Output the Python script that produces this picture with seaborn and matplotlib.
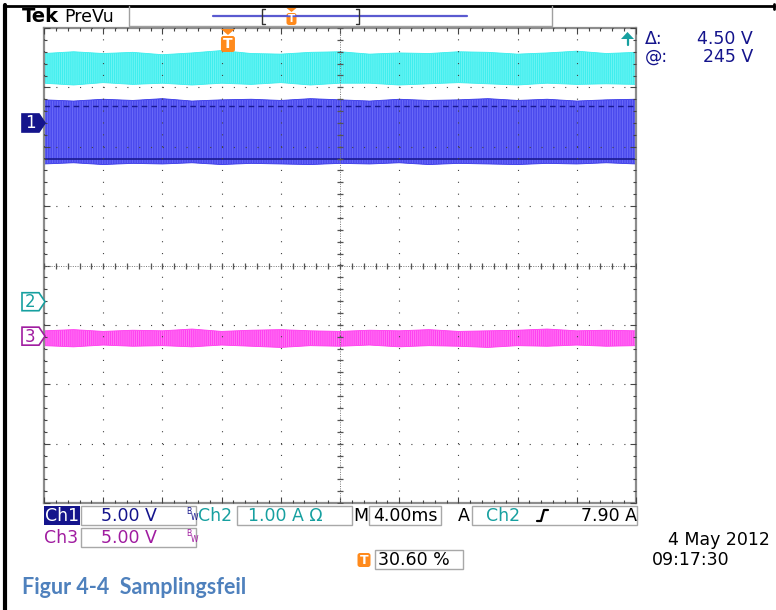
import numpy as np
import pandas as pd
import matplotlib
matplotlib.use("Agg")
import matplotlib.pyplot as plt
import matplotlib.transforms as mtransforms
from matplotlib.patches import Polygon, Rectangle, FancyBboxPatch
from matplotlib.lines import Line2D
from matplotlib.ticker import MultipleLocator
import seaborn as sns

# ---------------- data (time in ms, amplitude in screen divisions) ----------------
time_ms = [0, 2, 4, 6, 8, 10, 12, 14, 16, 18, 20, 22, 24, 26, 28, 30, 32, 34, 36, 38, 40]
ch2_upper = [3.57, 3.60, 3.57, 3.59, 3.55, 3.58, 3.62, 3.57, 3.56, 3.59, 3.60,
             3.56, 3.58, 3.57, 3.60, 3.59, 3.56, 3.58, 3.61, 3.57, 3.59]
ch2_lower = [3.07, 3.04, 3.08, 3.05, 3.07, 3.04, 3.07, 3.05, 3.08, 3.04, 3.07,
             3.07, 3.04, 3.06, 3.08, 3.06, 3.04, 3.07, 3.05, 3.06, 3.05]
ch1_upper = [2.79, 2.77, 2.80, 2.78, 2.81, 2.77, 2.79, 2.80, 2.78, 2.81, 2.79,
             2.77, 2.80, 2.78, 2.79, 2.81, 2.78, 2.80, 2.77, 2.79, 2.80]
ch1_lower = [1.71, 1.73, 1.70, 1.72, 1.71, 1.73, 1.70, 1.72, 1.71, 1.70, 1.72,
             1.71, 1.73, 1.70, 1.72, 1.71, 1.70, 1.72, 1.71, 1.73, 1.71]
ch1_core = [2.69, 1.79]
ch3_upper = [-1.10, -1.08, -1.11, -1.09, -1.10, -1.07, -1.11, -1.09, -1.08, -1.10, -1.11,
             -1.09, -1.10, -1.08, -1.11, -1.10, -1.09, -1.07, -1.10, -1.09, -1.10]
ch3_lower = [-1.35, -1.37, -1.34, -1.36, -1.35, -1.37, -1.34, -1.36, -1.38, -1.35, -1.36,
             -1.34, -1.37, -1.35, -1.36, -1.38, -1.35, -1.36, -1.34, -1.36, -1.35]
channel_labels = ["1", "2", "3"]
channel_offsets = [2.40, -0.61, -1.19]
trigger_time_ms = 12.43

readout_labels = ["Δ:", "@:"]
readout_values = ["4.50 V", "245 V"]
ch1_scale, ch2_scale, ch3_scale = "5.00 V", "1.00 A Ω", "5.00 V"
timebase = "4.00ms"
trig_source, trig_level = "Ch2", "7.90 A"
trig_position = "30.60 %"
date_str, time_str = "4 May 2012", "09:17:30"
caption = "Figur 4-4  Samplingsfeil"

# ---------------- style ----------------
sns.set_style("white")
plt.rcParams["font.family"] = ["DejaVu Sans"]
plt.rcParams["lines.scale_dashes"] = False
plt.rcParams["hatch.linewidth"] = 0.7

NAVY = "#14148c"
BLUE_TRACE = "#3c3ce8"
BLUE_HATCH = "#6a6af8"
CYAN_TRACE = "#3eeeee"
CYAN_HATCH = "#6ef4f4"
MAG_TRACE = "#ff40f0"
MAG_HATCH = "#ff78f4"
TEAL = "#17a0a0"
MAG_TEXT = "#a01ca0"
ORANGE = "#ff8a1c"
CAPTION = "#4f81bd"
BOXGREY = "#a8a8a8"

W, H = 776, 610
fig = plt.figure(figsize=(W / 100, H / 100), dpi=100)
PX = mtransforms.Affine2D().scale(1 / W, -1 / H).translate(0, 1) + fig.transFigure

ax = fig.add_axes([44 / W, 1 - 503 / H, (636 - 44) / W, (503 - 28) / H])
ax.set_xlim(0, 40)
ax.set_ylim(-4, 4)
ax.xaxis.set_major_locator(MultipleLocator(4))
ax.xaxis.set_minor_locator(MultipleLocator(0.8))
ax.yaxis.set_major_locator(MultipleLocator(1))
ax.yaxis.set_minor_locator(MultipleLocator(0.2))
ax.tick_params(which="both", direction="in", top=True, right=True, bottom=True, left=True,
               labelbottom=False, labelleft=False, color="#444444", width=0.8)
ax.tick_params(which="major", length=4.5)
ax.tick_params(which="minor", length=2.2)
for s in ax.spines.values():
    s.set_color("#8c8c8c")
    s.set_linewidth(1.6)
ax.set_axisbelow(False)
ax.grid(which="major", axis="x", color="#444444", lw=0.8, linestyle=(0, (0.8, 7.75)))
ax.grid(which="major", axis="y", color="#444444", lw=0.8, linestyle=(0, (0.8, 7.72)))

# centre cross of graticule
ax.axhline(0, color="#777777", lw=0.7, linestyle=(0, (0.7, 1.0)), zorder=3)
ax.axvline(20, color="#777777", lw=0.7, linestyle=(0, (0.7, 1.0)), zorder=3)
ax.plot(np.arange(0, 40.01, 0.8), np.zeros(51), ls="none", marker="|", ms=5, mew=0.9,
        color="#555555", zorder=3)
ax.plot(np.full(41, 20.0), np.arange(-4, 4.01, 0.2), ls="none", marker="_", ms=5, mew=0.9,
        color="#555555", zorder=3)

# ---------------- traces ----------------
traces = [
    (ch2_upper, ch2_lower, CYAN_TRACE, CYAN_HATCH, "|" * 8),
    (ch1_upper, ch1_lower, BLUE_TRACE, BLUE_HATCH, "|" * 10),
    (ch3_upper, ch3_lower, MAG_TRACE, MAG_HATCH, "|" * 8),
]
for up, lo, col, hcol, hatch in traces:
    df = pd.DataFrame({"t": time_ms, "upper": up, "lower": lo})
    ax.fill_between(df["t"], df["lower"], df["upper"], facecolor=col, edgecolor=hcol,
                    hatch=hatch, linewidth=0, zorder=1)
    sns.lineplot(data=df, x="t", y="upper", ax=ax, color=col, lw=0.6, zorder=1.2)
    sns.lineplot(data=df, x="t", y="lower", ax=ax, color=col, lw=0.6, zorder=1.2)
ax.axhline(ch1_core[0], color="#1a1a90", lw=1.0, linestyle=(0, (4, 3)), zorder=1.5)
ax.axhline(ch1_core[1], color="#1a1a90", lw=1.2, zorder=1.5)
ax.set_xlabel("")
ax.set_ylabel("")


def ptext(x, y, s, **kw):
    kw.setdefault("va", "center")
    fig.text(x, y, s, transform=PX, **kw)


def pbox(x0, y0, x1, y1, **kw):
    fig.add_artist(Rectangle((x0, y0), x1 - x0, y1 - y0, transform=PX, **kw))


def pline(xs, ys, **kw):
    fig.add_artist(Line2D(xs, ys, transform=PX, **kw))


def t_icon(cx, top, w, h, fs, tri=True, tri_h=6):
    if tri:
        fig.add_artist(Polygon([(cx - w / 2, top), (cx + w / 2, top), (cx, top + tri_h)],
                               closed=True, transform=PX, color=ORANGE, lw=0))
        top = top + tri_h + 1
    fig.add_artist(FancyBboxPatch((cx - w / 2, top), w, h,
                                  boxstyle="round,pad=0,rounding_size=2.5",
                                  transform=PX, fc=ORANGE, ec="none"))
    ptext(cx, top + h / 2 + 0.5, "T", color="white", fontsize=fs, fontweight="bold", ha="center")


# ---------------- channel ground markers ----------------
tag_styles = [(NAVY, NAVY, "white"), ("white", TEAL, TEAL), ("white", MAG_TEXT, MAG_TEXT)]
for lab, off, (fc, ec, tc) in zip(channel_labels, channel_offsets, tag_styles):
    cy = H - ax.transData.transform((0, off))[1]
    fig.add_artist(Polygon([(22, cy - 9), (39, cy - 9), (45, cy), (39, cy + 9), (22, cy + 9)],
                           closed=True, transform=PX, fc=fc, ec=ec, lw=1.2))
    ptext(30.5, cy + 0.5, lab, color=tc, fontsize=12, ha="center")

# trigger position marker on graticule
tx = ax.transData.transform((trigger_time_ms, 0))[0]
t_icon(tx, 29, 14, 16, 10, tri=True, tri_h=6)

# trigger level arrow (top right)
fig.add_artist(Polygon([(621, 39), (634, 39), (627.5, 32)], closed=True, transform=PX,
                       color=TEAL, lw=0))
pline([627.5, 627.5], [38, 45], color=TEAL, lw=1.6)

# ---------------- top bar ----------------
pline([5, 774], [6, 6], color="black", lw=2.0)
pline([5, 5], [5, 610], color="black", lw=3.0)
pline([773.5, 773.5], [4, 9], color="black", lw=2.0)
ptext(22, 17, "Tek", fontsize=14, fontweight="bold", color="black", ha="left")
ptext(64, 17, "PreVu", fontsize=12.5, color="black", ha="left")
pline([129, 129, 552, 552], [6, 26, 26, 6], color="#a0a0a0", lw=1.0)
pline([213, 467], [16, 16], color="#5a5ad0", lw=1.6)
pline([265, 262, 262, 265], [9, 9, 24, 24], color="#333333", lw=1.0)
pline([356, 359, 359, 356], [9, 9, 24, 24], color="#333333", lw=1.0)
t_icon(291.5, 8, 10, 12, 7.5, tri=True, tri_h=4)

# ---------------- right readouts ----------------
for i, (lab, val) in enumerate(zip(readout_labels, readout_values)):
    yy = 39 + 18 * i
    ptext(645, yy, lab, fontsize=12.5, color=NAVY, ha="left")
    ptext(753, yy, val, fontsize=12.5, color=NAVY, ha="right")

# ---------------- status bar ----------------
FS = 12.5
pbox(44, 506, 80, 525, fc=NAVY, ec="none")
ptext(62, 516, "Ch1", fontsize=FS, color="white", ha="center")
pbox(81, 506, 196, 525, fc="white", ec=BOXGREY, lw=1)
ptext(101, 516, ch1_scale, fontsize=FS, color=NAVY, ha="left")
ptext(186, 511, "B", fontsize=5.5, color=NAVY, ha="left")
ptext(190.5, 518, "W", fontsize=5.5, color=NAVY, ha="left")
ptext(198, 516, "Ch2", fontsize=FS, color=TEAL, ha="left")
pbox(237, 506, 352, 525, fc="white", ec=BOXGREY, lw=1)
ptext(248, 516, ch2_scale, fontsize=FS, color=TEAL, ha="left")
ptext(353, 516, "M", fontsize=FS, color="black", ha="left")
pbox(369, 506, 441, 525, fc="white", ec=BOXGREY, lw=1)
ptext(405, 516, timebase, fontsize=FS, color="black", ha="center")
ptext(458, 516, "A", fontsize=FS, color="black", ha="left")
pbox(472, 506, 637, 525, fc="white", ec=BOXGREY, lw=1)
ptext(486, 516, trig_source, fontsize=FS, color=TEAL, ha="left")
pline([537, 541, 544, 548], [521, 521, 510, 510], color="black", lw=1.6)
ptext(637, 516, trig_level, fontsize=FS, color="black", ha="right")

ptext(44, 538, "Ch3", fontsize=FS, color=MAG_TEXT, ha="left")
pbox(81, 528, 196, 547, fc="white", ec=BOXGREY, lw=1)
ptext(101, 538, ch3_scale, fontsize=FS, color=MAG_TEXT, ha="left")
ptext(186, 533, "B", fontsize=5.5, color=MAG_TEXT, ha="left")
ptext(190.5, 540, "W", fontsize=5.5, color=MAG_TEXT, ha="left")

t_icon(364, 553, 13, 14, 9, tri=False)
pbox(375, 550, 463, 569, fc="white", ec=BOXGREY, lw=1)
ptext(378, 560, trig_position, fontsize=FS, color="black", ha="left")

ptext(770, 540, date_str, fontsize=FS, color="black", ha="right")
ptext(652, 560, time_str, fontsize=FS, color="black", ha="left")

# caption
ptext(22, 587, caption, fontsize=15.5, color=CAPTION, fontweight="bold", ha="left",
      family=["Lato", "DejaVu Sans"])

fig.savefig("out.png", dpi=100, facecolor="white")
